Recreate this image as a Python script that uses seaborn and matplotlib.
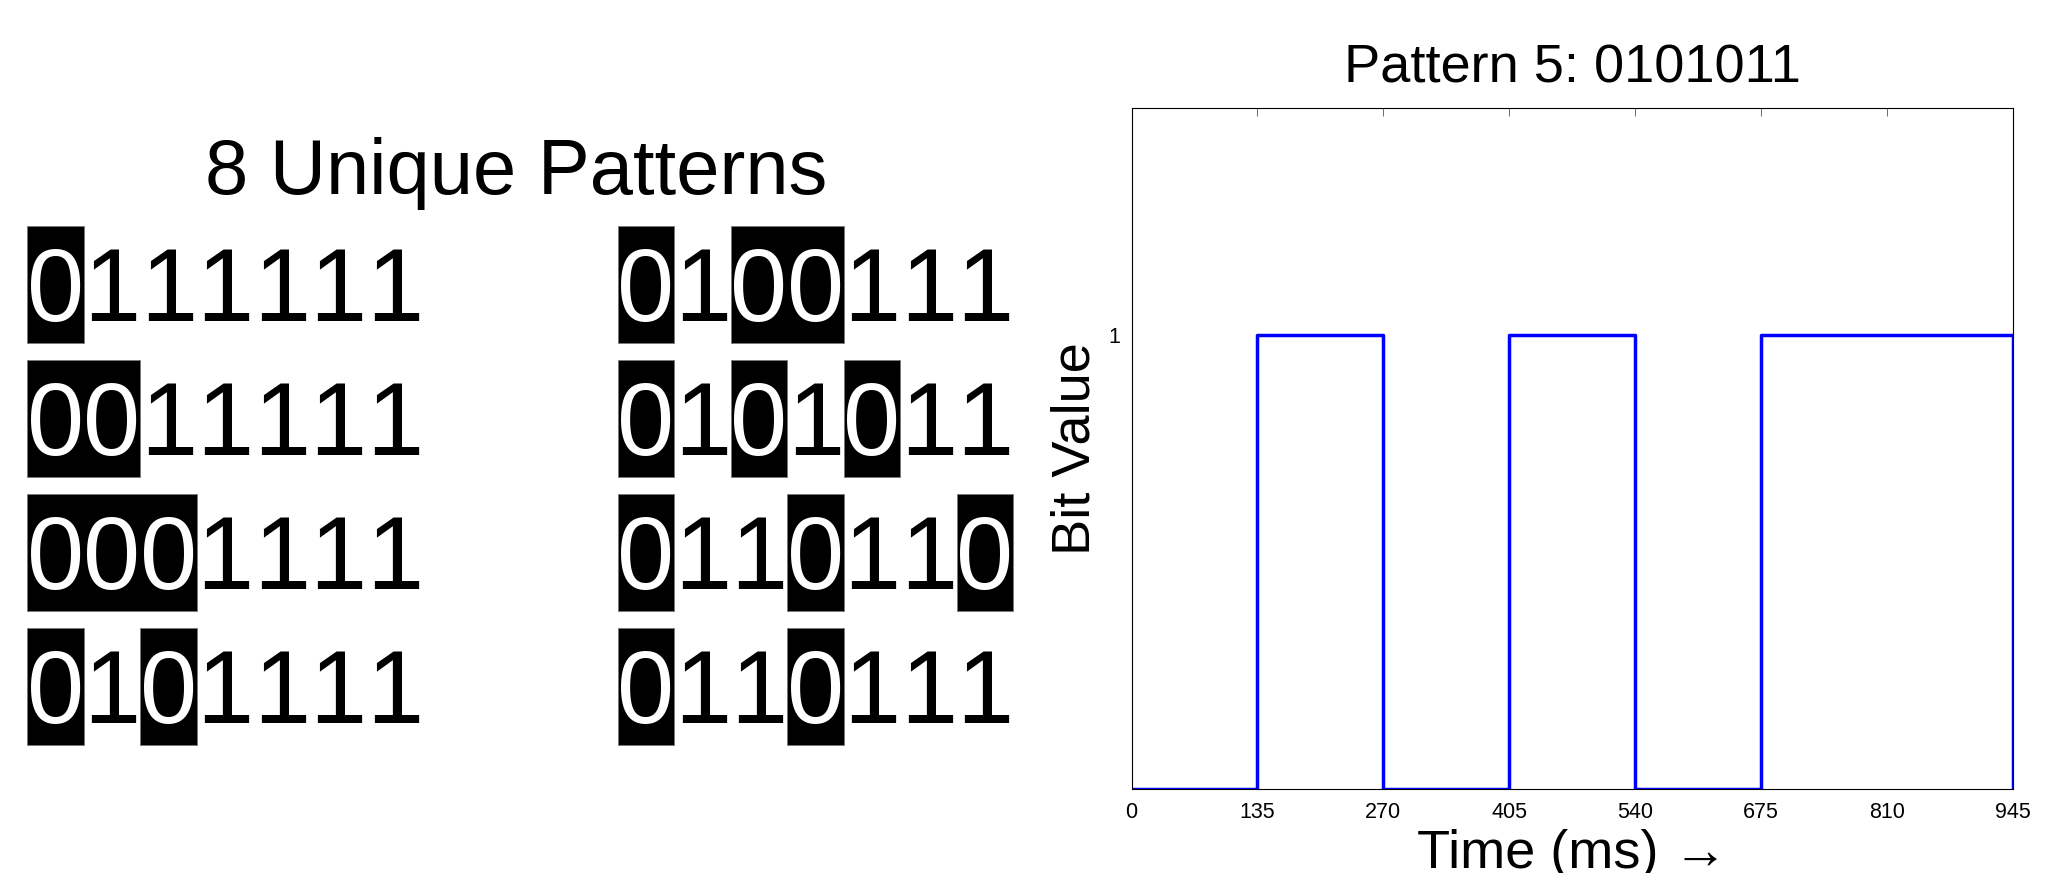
import numpy as np
import matplotlib
matplotlib.use("Agg")
import matplotlib.pyplot as plt
from matplotlib.patches import Rectangle
import seaborn as sns

# ---------------- data ----------------
panel_title = "8 Unique Patterns"
patterns_left = ["0111111", "0011111", "0001111", "0101111"]
patterns_right = ["0100111", "0101011", "0110110", "0110111"]

plot_title = "Pattern 5: 0101011"
signal_time_ms = [0, 135, 270, 405, 540, 675, 810, 945]
signal_value = [0, 1, 0, 1, 0, 1, 1, 0]
x_ticks = [0, 135, 270, 405, 540, 675, 810, 945]
y_ticks = [1]
x_label = "Time (ms) \u2192"
y_label = "Bit Value"

# ---------------- style ----------------
sns.set_theme(style="white")
plt.rcParams["font.family"] = ["Liberation Sans", "DejaVu Sans"]
plt.rcParams["text.color"] = "black"
plt.rcParams["axes.labelcolor"] = "black"
plt.rcParams["xtick.color"] = "black"
plt.rcParams["ytick.color"] = "black"

W, H = 2066, 873
fig = plt.figure(figsize=(W / 100, H / 100), dpi=100)

# ---------------- left panel: pattern table ----------------
axL = fig.add_axes([0, 0, 1040 / W, 1])
axL.set_xlim(0, 1040)
axL.set_ylim(H, 0)
axL.axis("off")

axL.text(516, 194, panel_title, ha="center", va="baseline", fontsize=56, color="black")

col_x0 = [27, 617.5]
adv = 56.5
row_c0 = 284
row_pitch = 134.2
box_h = 117
digit_fs = 74
digit_half = 0.716 * digit_fs * 100 / 72 / 2

for c, col in enumerate([patterns_left, patterns_right]):
    for r, pat in enumerate(col):
        yc = row_c0 + r * row_pitch
        # merge consecutive zeros into one black box
        i = 0
        while i < len(pat):
            if pat[i] == "0":
                j = i
                while j < len(pat) and pat[j] == "0":
                    j += 1
                axL.add_patch(Rectangle((col_x0[c] + i * adv, yc - box_h / 2),
                                        (j - i) * adv, box_h,
                                        facecolor="black", edgecolor="#777777",
                                        linewidth=0.6))
                i = j
            else:
                i += 1
        for i, ch in enumerate(pat):
            x = col_x0[c] + i * adv
            color = "white" if ch == "0" else "black"
            axL.text(x + adv / 2, yc + digit_half, ch, ha="center", va="baseline",
                     fontsize=digit_fs, color=color)

# ---------------- right panel: bit signal ----------------
left, right = 1131.5, 2013
top, bottom = 108, 789
ax = fig.add_axes([left / W, 1 - bottom / H, (right - left) / W, (bottom - top) / H])

sns.lineplot(x=signal_time_ms, y=signal_value, drawstyle="steps-post",
             color="#0000ff", linewidth=2.5, ax=ax, estimator=None)

ax.set_xlim(0, 945)
ax.set_ylim(0, 1.5)
ax.set_xticks(x_ticks)
ax.set_xticklabels([str(t) for t in x_ticks])
ax.set_yticks(y_ticks)
ax.set_yticklabels([str(t) for t in y_ticks])
ax.tick_params(axis="both", direction="in", length=6, width=0.6, color="#555555",
               labelsize=15.5, labelcolor="black", top=True, right=True)
ax.tick_params(axis="x", pad=9.5)
ax.tick_params(axis="y", pad=8)
for s in ax.spines.values():
    s.set_color("black")
    s.set_linewidth(0.8)
    s.set_visible(True)

ax.set_title(plot_title, fontsize=39, pad=18.7, color="black")
ax.set_xlabel(x_label, fontsize=39, labelpad=4, color="black")
ax.set_ylabel(y_label, fontsize=39, labelpad=6, color="black")
ax.grid(False)

fig.savefig("out.png", dpi=100, facecolor="white")
